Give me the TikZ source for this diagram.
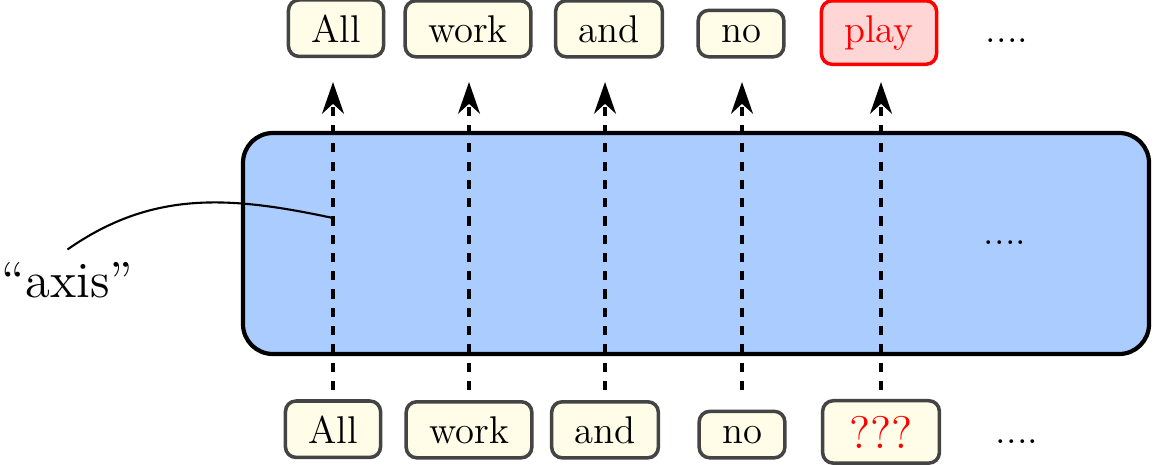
\documentclass[tikz,border=0pt]{standalone}
\usetikzlibrary{arrows.meta}
\definecolor{cream}{HTML}{FFFDE8}
\definecolor{boxgray}{HTML}{444444}
\definecolor{netblue}{HTML}{AACCFF}
\definecolor{pinkfill}{HTML}{FFD6D6}
\tikzset{
  word/.style={draw=boxgray, fill=cream, line width=1pt, rounded corners=3pt,
    inner xsep=6.5pt, inner ysep=4.1pt, anchor=base, font=\fontsize{11}{13}\selectfont},
  target/.style={word, draw=red, fill=pinkfill, text=red},
  plain/.style={anchor=base, font=\fontsize{11}{13}\selectfont},
  flow/.style={dash pattern=on 2.6pt off 2.6pt, line width=1.1pt,
    -{Stealth[length=9pt,width=6.2pt,inset=2.8pt]}},
}
\begin{document}
\begin{tikzpicture}[scale=1, transform shape]
          \useasboundingbox (0,0) rectangle (11.53,4.64);
          \fill[netblue, draw=black, line width=1.2pt, rounded corners=8.5pt] (2.43,1.10) rectangle (11.49,3.31); % network
          \node[plain] (more) at (10.05,2.20) {....};
          % input words
          \node[word] (b1) at (3.33,0.21) {All};
          \node[word] (b2) at (4.69,0.21) {work};
          \node[word] (b3) at (6.05,0.21) {and};
          \node[word] (b4) at (7.42,0.21) {no};
          \node[word, text=red, inner xsep=7.6pt, inner ysep=4.3pt, font=\fontsize{13}{15}\selectfont] (b5) at (8.81,0.16) {???};
          \node[plain] (bdots) at (10.17,0.21) {....};
          % output words
          \node[word] (t1) at (3.36,4.22) {All};
          \node[word] (t2) at (4.68,4.22) {work};
          \node[word] (t3) at (6.09,4.22) {and};
          \node[word] (t4) at (7.41,4.22) {no};
          \node[target] (t5) at (8.79,4.22) {play};
          \node[plain] (tdots) at (10.07,4.22) {....};
          % arrows through the network
          \coordinate (lo) at (0,0.74);
          \coordinate (hi) at (0,3.82);
          \foreach \i in {1,...,5}
            \draw[flow] (b\i |- lo) -- (b\i |- hi);
          % label
          \node[anchor=base] (axis) at (0.675,1.67) {\Large ``axis''};
          \coordinate (ax) at (3.33,2.46);
          \draw[semithick] (axis.north) to[out=35, in=168] (ax);
        \end{tikzpicture}
\end{document}
